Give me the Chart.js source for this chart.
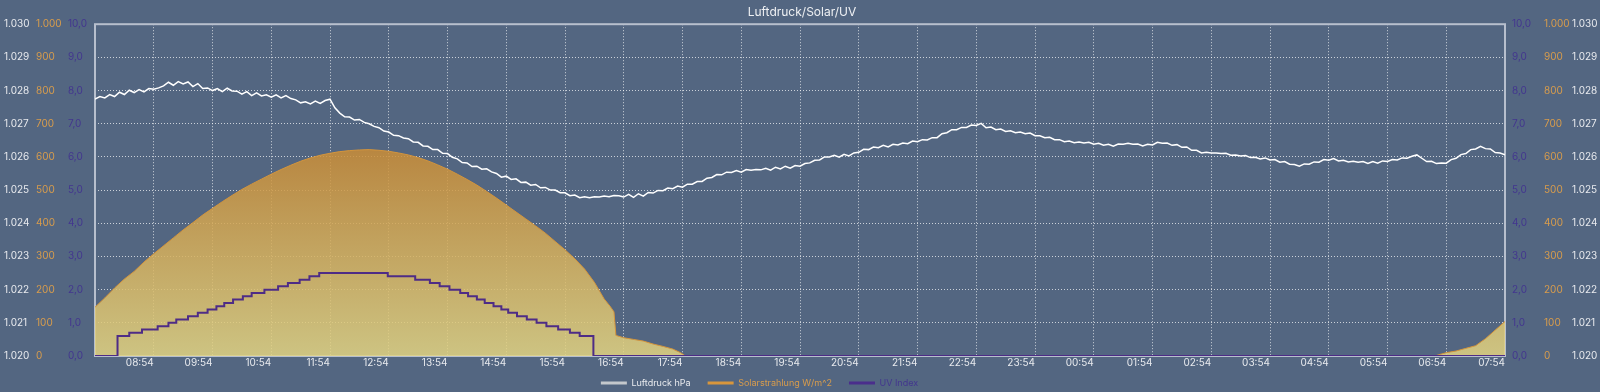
<!DOCTYPE html>
<html>
<head>
<meta charset="utf-8">
<script src="https://cdn.jsdelivr.net/npm/chart.js@4.4.1/dist/chart.umd.min.js"></script>
<style>
  html, body { margin: 0; padding: 0; background: #536681; }
  #wrap { width: 1600px; height: 392px; }
</style>
</head>
<body>
<div id="wrap"><canvas id="chart" width="1600" height="392"></canvas></div>
<script>
// x axis runs in minutes from 07:54 to 07:54 next day
const hourLabels = ['07:54', '08:54', '09:54', '10:54', '11:54', '12:54', '13:54', '14:54', '15:54',
    '16:54', '17:54', '18:54', '19:54', '20:54', '21:54', '22:54', '23:54', '00:54', '01:54',
    '02:54', '03:54', '04:54', '05:54', '06:54', '07:54'];

// Luftdruck, one value every 5 minutes (one row = one hour)
const pressureStep = 5;
const pressure = [
    1027.74, 1027.82, 1027.78, 1027.88, 1027.82, 1027.95, 1027.88, 1028.01, 1027.94, 1028.03, 1027.96, 1028.06,
    1028.04, 1028.08, 1028.14, 1028.25, 1028.16, 1028.27, 1028.20, 1028.26, 1028.12, 1028.21, 1028.06, 1028.08,
    1028.00, 1028.06, 1027.97, 1028.07, 1027.99, 1027.98, 1027.89, 1027.97, 1027.85, 1027.93, 1027.84, 1027.87,
    1027.80, 1027.87, 1027.78, 1027.85, 1027.76, 1027.72, 1027.63, 1027.66, 1027.60, 1027.68, 1027.61, 1027.70,
    1027.74, 1027.48, 1027.32, 1027.21, 1027.20, 1027.11, 1027.13, 1027.04, 1027.00, 1026.92, 1026.88, 1026.78,
    1026.75, 1026.65, 1026.64, 1026.57, 1026.55, 1026.45, 1026.44, 1026.33, 1026.32, 1026.22, 1026.22, 1026.11,
    1026.10, 1025.99, 1025.94, 1025.83, 1025.82, 1025.71, 1025.72, 1025.63, 1025.64, 1025.55, 1025.50, 1025.39,
    1025.42, 1025.32, 1025.34, 1025.23, 1025.24, 1025.15, 1025.17, 1025.07, 1025.08, 1025.00, 1025.00, 1024.92,
    1024.92, 1024.83, 1024.85, 1024.77, 1024.80, 1024.77, 1024.80, 1024.79, 1024.82, 1024.80, 1024.84, 1024.83,
    1024.79, 1024.87, 1024.78, 1024.89, 1024.82, 1024.93, 1024.91, 1024.99, 1024.98, 1025.06, 1025.04, 1025.12,
    1025.09, 1025.18, 1025.18, 1025.26, 1025.26, 1025.36, 1025.38, 1025.47, 1025.46, 1025.54, 1025.53, 1025.59,
    1025.54, 1025.62, 1025.60, 1025.62, 1025.61, 1025.66, 1025.60, 1025.69, 1025.64, 1025.72, 1025.66, 1025.74,
    1025.72, 1025.80, 1025.82, 1025.90, 1025.91, 1026.00, 1026.00, 1026.05, 1025.99, 1026.08, 1026.03, 1026.12,
    1026.14, 1026.23, 1026.22, 1026.30, 1026.28, 1026.35, 1026.30, 1026.38, 1026.36, 1026.42, 1026.40, 1026.48,
    1026.46, 1026.52, 1026.51, 1026.58, 1026.58, 1026.70, 1026.73, 1026.82, 1026.82, 1026.89, 1026.89, 1026.96,
    1026.95, 1027.01, 1026.88, 1026.90, 1026.82, 1026.84, 1026.77, 1026.79, 1026.73, 1026.75, 1026.70, 1026.72,
    1026.64, 1026.64, 1026.58, 1026.59, 1026.52, 1026.52, 1026.46, 1026.48, 1026.43, 1026.45, 1026.42, 1026.44,
    1026.38, 1026.41, 1026.35, 1026.38, 1026.32, 1026.39, 1026.38, 1026.41, 1026.38, 1026.39, 1026.33, 1026.38,
    1026.36, 1026.44, 1026.41, 1026.42, 1026.35, 1026.37, 1026.29, 1026.30, 1026.20, 1026.20, 1026.12, 1026.14,
    1026.12, 1026.12, 1026.10, 1026.11, 1026.05, 1026.06, 1026.03, 1026.04, 1025.98, 1025.99, 1025.94, 1025.97,
    1025.91, 1025.92, 1025.84, 1025.86, 1025.78, 1025.77, 1025.72, 1025.79, 1025.78, 1025.85, 1025.84, 1025.92,
    1025.90, 1025.95, 1025.88, 1025.90, 1025.85, 1025.87, 1025.84, 1025.86, 1025.80, 1025.86, 1025.81, 1025.88,
    1025.86, 1025.92, 1025.91, 1025.97, 1025.96, 1026.02, 1026.06, 1025.96, 1025.86, 1025.87, 1025.80, 1025.82,
    1025.81, 1025.92, 1025.96, 1026.07, 1026.10, 1026.22, 1026.24, 1026.32, 1026.25, 1026.24, 1026.13, 1026.12,
    1026.06
];

// Solarstrahlung W/m^2 (minutes, values)
const solarTimes = [0, 10, 20, 30, 40, 50, 60, 70, 80, 90, 100, 110, 120, 130, 140, 150, 160, 170,
    180, 190, 200, 210, 220, 230, 240, 250, 260, 270, 280, 290, 300, 310, 320, 330, 340, 350,
    360, 370, 380, 390, 400, 410, 420, 430, 440, 450, 460, 470, 480, 490, 500, 510, 520, 526, 530,
    532, 540, 550, 560, 570, 580, 590, 598, 603, 1368, 1380, 1390, 1400, 1410, 1420, 1430, 1440];
const solarValues = [147, 175, 205, 232, 255, 283, 308, 332, 356, 380, 402, 425, 445, 465, 484, 502, 518, 533,
    548, 562, 575, 587, 597, 605, 611, 616, 619, 621, 622, 620, 617, 612, 606, 598, 588, 576,
    563, 548, 532, 515, 496, 476, 455, 434, 413, 392, 370, 345, 320, 293, 262, 222, 172, 150, 133,
    62, 55, 50, 45, 36, 29, 21, 10, 0, 0, 10, 15, 23, 31, 52, 78, 104];

// UV Index steps (minute where the level starts, level)
const uvTimes = [0, 23, 35, 48, 64, 75, 83, 95, 105, 115, 124, 132, 141, 151, 160, 173, 187, 197, 209, 219, 229,
    299, 327, 342, 352, 362, 373, 381, 390, 398, 407, 415, 422, 431, 441, 451, 461, 473, 485, 495, 509, 1440];
const uvValues = [0, 0.6, 0.7, 0.8, 0.9, 1.0, 1.1, 1.2, 1.3, 1.4, 1.5, 1.6, 1.7, 1.8, 1.9, 2.0, 2.1, 2.2, 2.3, 2.4, 2.5,
    2.4, 2.3, 2.2, 2.1, 2.0, 1.9, 1.8, 1.7, 1.6, 1.5, 1.4, 1.3, 1.2, 1.1, 1.0, 0.9, 0.8, 0.7, 0.6, 0, 0];

const FONT = 'Inter, "Noto Sans", sans-serif';
const GRID = 'rgba(255,255,255,0.7)';
const tickFont = {family: FONT, size: 10};
const colPressure = '#e8eaee';
const colSolar = '#d89c4c';
const colUV = '#43368f';

// German number format: 1030 -> 1.030
function de(v) {
    if (v < 1000) return String(v);
    return Math.floor(v / 1000) + '.' + String(v % 1000).padStart(3, '0');
}
const fmtUV = v => v.toFixed(1).replace('.', ',');

function yScale(o) {
    return {
        type: 'linear',
        position: o.position,
        min: o.min, max: o.max,
        weight: o.weight,
        grid: {display: !!o.grid, color: GRID, lineWidth: 1, drawTicks: false},
        border: {display: false, dash: [1, 2]},
        ticks: {stepSize: o.step, color: o.color, font: tickFont, padding: o.pad, crossAlign: o.cross, callback: o.fmt, autoSkip: false},
        afterFit: s => { s.width = o.width; }
    };
}

// plot frame
const framePlugin = {
    id: 'frame',
    beforeDatasetsDraw(chart) {
        const {ctx, chartArea: a} = chart;
        ctx.save();
        ctx.strokeStyle = '#b7bfcd';
        ctx.lineWidth = 2;
        ctx.strokeRect(a.left, a.top, a.right - a.left, a.bottom - a.top);
        ctx.restore();
    }
};

// legend sits a bit left of centre in the original, text row at y 383
const LEGEND_PAD = 17, LEGEND_FONT = 9;
const legendShift = {
    id: 'legendShift',
    afterLayout(chart) {
        const l = chart.legend;
        const dx = 759.5 - (l.left + l.right) / 2;
        l.left += dx;
        l.right += dx;
        l.top = 383 - LEGEND_PAD - LEGEND_FONT / 2;
    }
};

const legendBox = ['#c4c8cc', '#d8963c', '#4a2e8c'];
const legendText = [colPressure, colSolar, colUV];

new Chart(document.getElementById('chart'), {
    type: 'line',
    data: {
        datasets: [{
            label: 'Luftdruck hPa',
            data: pressure.map((v, i) => ({x: i * pressureStep, y: v})),
            yAxisID: 'yP',
            borderColor: '#ffffff',
            borderWidth: 1.5,
            pointRadius: 0,
            order: 1
        }, {
            label: 'Solarstrahlung W/m^2',
            data: solarTimes.map((t, i) => ({x: t, y: solarValues[i]})),
            yAxisID: 'yS',
            borderColor: '#d4953c',
            borderWidth: 1,
            pointRadius: 0,
            fill: 'origin',
            backgroundColor: function (context) {
                const {chart} = context;
                const a = chart.chartArea;
                if (!a) return 'rgba(215,180,100,0.85)';
                const top = chart.scales.yS.getPixelForValue(620);
                const g = chart.ctx.createLinearGradient(0, top, 0, a.bottom);
                g.addColorStop(0, 'rgba(203,141,54,0.85)');
                g.addColorStop(1, 'rgba(227,212,130,0.85)');
                return g;
            },
            order: 3
        }, {
            label: 'UV Index',
            data: uvTimes.map((t, i) => ({x: t, y: uvValues[i]})),
            yAxisID: 'yU',
            borderColor: '#4e2c86',
            borderWidth: 2,
            pointRadius: 0,
            stepped: true,
            order: 2
        }]
    },
    options: {
        responsive: false,
        animation: false,
        layout: {padding: {left: 4, right: 0, top: 0, bottom: 0}},
        scales: {
            x: {
                type: 'linear', min: 0, max: 1440,
                grid: {color: GRID, drawTicks: false},
                border: {display: false, dash: [1, 2]},
                ticks: {
                    stepSize: 60, color: '#e8eaee', font: tickFont, padding: 1, align: 'end',
                    maxRotation: 0, autoSkip: false,
                    callback: v => v === 0 ? '' : hourLabels[v / 60]
                },
                afterFit: s => { s.height = 17; }
            },
            yP: yScale({position: 'left', min: 1020, max: 1030, step: 1, color: colPressure, fmt: de, weight: 3, width: 32, pad: 6, cross: 'far', grid: true}),
            yS: yScale({position: 'left', min: 0, max: 1000, step: 100, color: colSolar, fmt: de, weight: 2, width: 32, pad: 6, cross: 'far'}),
            yU: yScale({position: 'left', min: 0, max: 10, step: 1, color: colUV, fmt: fmtUV, weight: 1, width: 27, pad: 12, cross: 'far'}),
            yU2: yScale({position: 'right', min: 0, max: 10, step: 1, color: colUV, fmt: fmtUV, weight: 1, width: 32, pad: 7, cross: 'near'}),
            yS2: yScale({position: 'right', min: 0, max: 1000, step: 100, color: colSolar, fmt: de, weight: 2, width: 35, pad: 7, cross: 'near'}),
            yP2: yScale({position: 'right', min: 1020, max: 1030, step: 1, color: colPressure, fmt: de, weight: 3, width: 28, pad: 0, cross: 'near'})
        },
        plugins: {
            title: {
                display: true,
                text: 'Luftdruck/Solar/UV',
                color: '#eef0f3',
                font: {family: FONT, size: 12, weight: 'normal'},
                padding: {top: 5.5, bottom: 4.3}
            },
            legend: {
                position: 'bottom',
                maxHeight: 19,
                labels: {
                    font: {family: FONT, size: LEGEND_FONT},
                    boxWidth: 26,
                    boxHeight: 3,
                    padding: LEGEND_PAD,
                    generateLabels: chart => chart.data.datasets.map((ds, i) => ({
                        text: ds.label,
                        fillStyle: legendBox[i],
                        strokeStyle: legendBox[i],
                        lineWidth: 0,
                        fontColor: legendText[i],
                        hidden: false,
                        datasetIndex: i
                    }))
                }
            },
            tooltip: {enabled: false}
        }
    },
    plugins: [framePlugin, legendShift]
});
</script>
</body>
</html>
